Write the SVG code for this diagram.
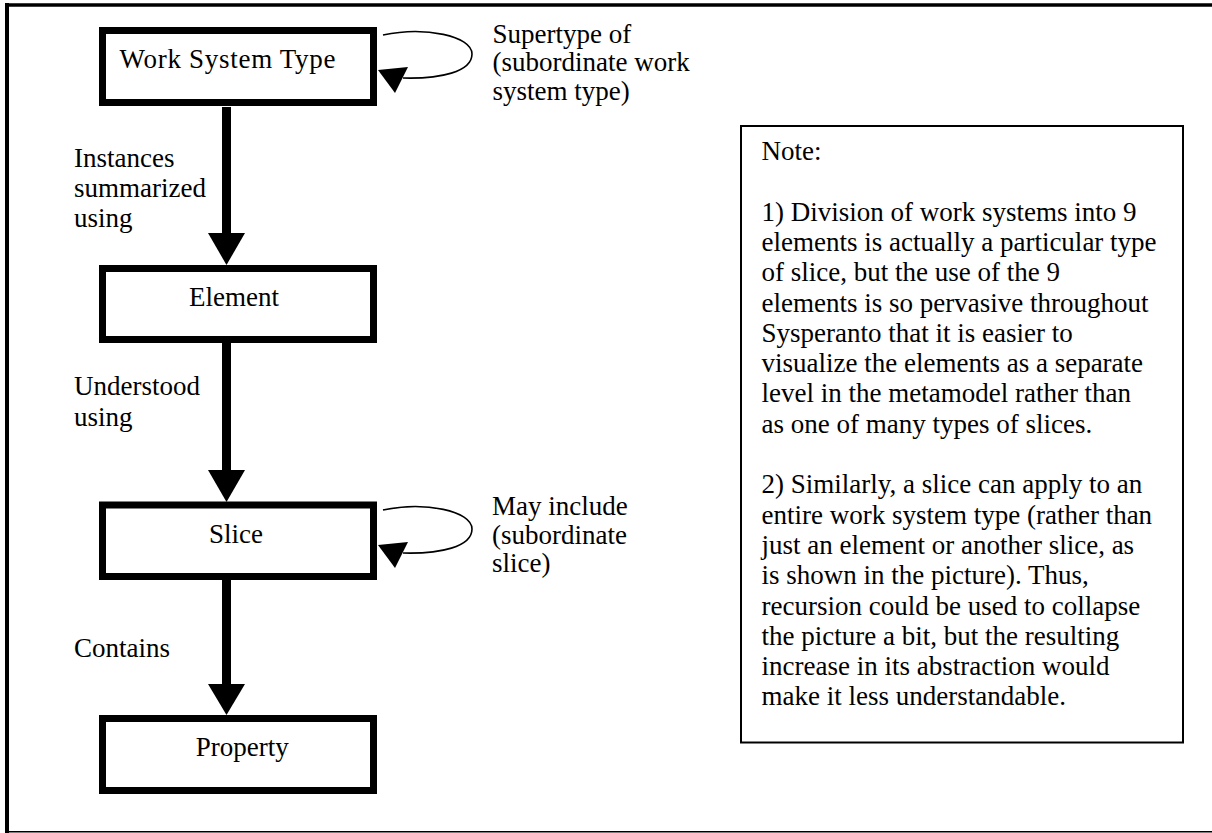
<svg xmlns="http://www.w3.org/2000/svg" width="1212" height="833" viewBox="0 0 1212 833" font-family="'Liberation Serif', 'Times New Roman', serif" font-size="27">
<defs>
<style>
text{font-family:'Liberation Serif','Times New Roman',serif;font-size:27px;fill:#000}
.box{fill:#fff;stroke:#000;stroke-width:7}
.shaft{stroke:#000;stroke-width:9;fill:none}
.loop{stroke:#000;stroke-width:1.6;fill:none}
.head{fill:#000}
.mid{text-anchor:middle}
</style>
</defs>
<rect width="1212" height="833" fill="#fff"/>
<g id="frame" stroke="#000" fill="none">
<path d="M5,5 H1212" stroke-width="3.5"/>
<path d="M7,3 V833" stroke-width="4"/>
<path d="M7,831.8 H1212" stroke-width="1.5"/>
</g>
<g id="connectors">
<path class="shaft" d="M226.5,107 V234"/>
<polygon class="head" points="208,233 245,233 226.5,265"/>
<path class="shaft" d="M226.5,343 V471"/>
<polygon class="head" points="208,470 245,470 226.5,502"/>
<path class="shaft" d="M226.5,580 V685"/>
<polygon class="head" points="208,684 245,684 226.5,715"/>
<path class="loop" d="M383,35 C425,26 472,36 472,54 C472,72 440,79 403,78"/>
<polygon class="head" points="408,67 378,70 395,93"/>
<path class="loop" d="M383,510 C425,501 472,511 472,529 C472,547 440,554 403,553"/>
<polygon class="head" points="408,542 378,545 395,568"/>
</g>
<g id="node-wst">
<rect class="box" x="102.5" y="30.5" width="271" height="72"/>
<text class="mid" x="227.5" y="68" textLength="216" lengthAdjust="spacing">Work System Type</text>
</g>
<g id="node-element">
<rect class="box" x="102.5" y="268.5" width="271" height="71"/>
<text class="mid" x="234" y="305.5">Element</text>
</g>
<g id="node-slice">
<rect class="box" x="102.5" y="505" width="271" height="71.5"/>
<text class="mid" x="236" y="542.5">Slice</text>
</g>
<g id="node-property">
<rect class="box" x="102.5" y="718.5" width="271" height="72"/>
<text class="mid" x="242.3" y="756">Property</text>
</g>
<g id="labels">
<text x="74" y="166.5">Instances</text>
<text x="74" y="196.5">summarized</text>
<text x="74" y="226.5">using</text>
<text x="74" y="395">Understood</text>
<text x="74" y="426">using</text>
<text x="74" y="657">Contains</text>
<text x="492.5" y="42.5">Supertype of</text>
<text x="492.5" y="71">(subordinate work</text>
<text x="492.5" y="99.5">system type)</text>
<text x="492" y="515">May include</text>
<text x="492" y="543.5">(subordinate</text>
<text x="492" y="572">slice)</text>
</g>
<g id="note">
<rect x="741" y="126" width="442" height="616.5" fill="#fff" stroke="#000" stroke-width="2"/>
<text x="761.5" y="160">Note:</text>
<text x="761.5" y="220.6">1) Division of work systems into 9</text>
<text x="761.5" y="250.9">elements is actually a particular type</text>
<text x="761.5" y="281.2">of slice, but the use of the 9</text>
<text x="761.5" y="311.5">elements is so pervasive throughout</text>
<text x="761.5" y="341.8">Sysperanto that it is easier to</text>
<text x="761.5" y="372.1">visualize the elements as a separate</text>
<text x="761.5" y="402.4">level in the metamodel rather than</text>
<text x="761.5" y="432.7">as one of many types of slices.</text>
<text x="761.5" y="493.3">2) Similarly, a slice can apply to an</text>
<text x="761.5" y="523.6">entire work system type (rather than</text>
<text x="761.5" y="553.9">just an element or another slice, as</text>
<text x="761.5" y="584.2">is shown in the picture). Thus,</text>
<text x="761.5" y="614.5">recursion could be used to collapse</text>
<text x="761.5" y="644.8">the picture a bit, but the resulting</text>
<text x="761.5" y="675.1">increase in its abstraction would</text>
<text x="761.5" y="705.4">make it less understandable.</text>
</g>
</svg>
